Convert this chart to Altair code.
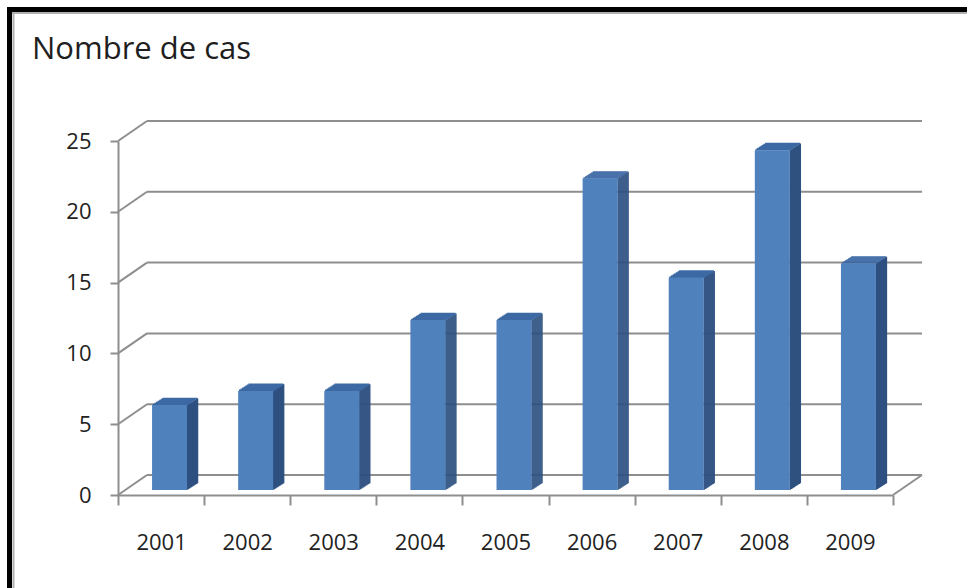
import altair as alt
import pandas as pd

# ---- data ----
years = ["2001", "2002", "2003", "2004", "2005", "2006", "2007", "2008", "2009"]
cases = [6, 7, 7, 12, 12, 22, 15, 24, 16]
y_ticks = [0, 5, 10, 15, 20, 25]
title_text = "Nombre de cas"

df = pd.DataFrame({"year": years, "cases": cases})
grid_df = pd.DataFrame({"tick": y_ticks})

# ---- layout / style constants ----
W, H = 775, 354            # front plot area
PAD_L, PAD_T = 118, 141
DEPTH_X, DEPTH_Y = 29, -20  # back wall offset
BAR_W = 35
BAR_DX = 8.5               # bar front-face offset from band centre
BAR_DY = -5                # bar base lifted from front axis
SIDE_X, SIDE_Y = 11, 7     # 3D bar depth
FRONT = "#4f81bd"
SIDE = "#2e5181"
TOP = "#3c69a3"
GRID = "#8e8e8e"
FONT = "Open Sans"

xs = alt.Scale(domain=years, paddingInner=0, paddingOuter=0)
ys = alt.Scale(domain=[0, 25], nice=False)

x_axis = alt.Axis(title=None, tickBand="extent", labelAngle=0,
                  labelFont=FONT, labelFontSize=22, labelColor="#222222",
                  labelPadding=27, tickSize=10, tickColor=GRID, tickWidth=2,
                  domainColor=GRID, domainWidth=2, grid=False)
y_axis = alt.Axis(title=None, values=y_ticks, labelFont=FONT, labelFontSize=22,
                  labelColor="#222222", labelPadding=19, tickSize=8,
                  tickColor=GRID, tickWidth=2, domainColor=GRID,
                  domainWidth=2, grid=False)


def X():
    return alt.X("year:N", scale=xs, sort=years, axis=x_axis)


def Y(field):
    return alt.Y(field, scale=ys, axis=y_axis)


layers = []

# back-wall gridlines
layers.append(
    alt.Chart(grid_df).mark_rule(color=GRID, strokeWidth=2, yOffset=DEPTH_Y).encode(
        y=Y("tick:Q"), x=alt.value(DEPTH_X), x2=alt.value(W + DEPTH_X))
)
# diagonals from front axis to back wall
layers.append(
    alt.Chart(grid_df).mark_rule(color=GRID, strokeWidth=2, y2Offset=DEPTH_Y).encode(
        y=Y("tick:Q"), y2="tick:Q", x=alt.value(0), x2=alt.value(DEPTH_X))
)
# right floor diagonal
layers.append(
    alt.Chart(grid_df).transform_filter("datum.tick == 0").mark_rule(
        color=GRID, strokeWidth=2, y2Offset=DEPTH_Y).encode(
        y=Y("tick:Q"), y2="tick:Q", x=alt.value(W), x2=alt.value(W + DEPTH_X))
)

# side faces (thin vertical strips forming a parallelogram)
n_side = 11
for k in range(n_side):
    d = (k + 0.5) * SIDE_X / n_side
    off = -SIDE_Y * d / SIDE_X
    layers.append(
        alt.Chart(df).mark_bar(width=SIDE_X / n_side + 0.4, color=SIDE,
                               xOffset=BAR_DX + BAR_W / 2 + d,
                               yOffset=BAR_DY + off, y2Offset=BAR_DY + off).encode(
            x=X(), y=Y("cases:Q"))
    )

# top faces (thin horizontal strips)
n_top = 7
for k in range(n_top):
    d = (k + 0.5) * SIDE_Y / n_top
    sx = SIDE_X * d / SIDE_Y
    h = SIDE_Y / n_top / 2 + 0.3
    layers.append(
        alt.Chart(df).mark_bar(width=BAR_W, color=TOP,
                               xOffset=BAR_DX + sx,
                               yOffset=BAR_DY - d - h, y2Offset=BAR_DY - d + h).encode(
            x=X(), y=Y("cases:Q"), y2="cases:Q")
    )

# front faces
layers.append(
    alt.Chart(df).mark_bar(width=BAR_W, color=FRONT, xOffset=BAR_DX,
                           yOffset=BAR_DY, y2Offset=BAR_DY).encode(x=X(), y=Y("cases:Q"))
)

# frame (black border + thin grey inner line, top and left)
frame_df = pd.DataFrame({"k": [0]})
layers.append(alt.Chart(frame_df).mark_rule(color="#000000", strokeWidth=5).encode(
    x=alt.value(7 - PAD_L), x2=alt.value(967 - PAD_L), y=alt.value(9.5 - PAD_T)))
layers.append(alt.Chart(frame_df).mark_rule(color="#000000", strokeWidth=5).encode(
    x=alt.value(9.5 - PAD_L), y=alt.value(7 - PAD_T), y2=alt.value(588 - PAD_T)))
layers.append(alt.Chart(frame_df).mark_rule(color="#b0b0b0", strokeWidth=2).encode(
    x=alt.value(12 - PAD_L), x2=alt.value(967 - PAD_L), y=alt.value(13 - PAD_T)))
layers.append(alt.Chart(frame_df).mark_rule(color="#b0b0b0", strokeWidth=2).encode(
    x=alt.value(13.5 - PAD_L), y=alt.value(12 - PAD_T), y2=alt.value(588 - PAD_T)))

# chart title (text block in the top-left corner)
title_df = pd.DataFrame({"t": [title_text]})
layers.append(alt.Chart(title_df).mark_text(
    align="left", baseline="alphabetic", font=FONT, fontSize=31,
    color="#1e1e1e").encode(
    text="t:N", x=alt.value(32 - PAD_L), y=alt.value(59 - PAD_T)))

chart = alt.layer(*layers).properties(
    width=W, height=H,
    padding={"left": PAD_L, "top": PAD_T, "right": 967 - PAD_L - W, "bottom": 588 - PAD_T - H},
    autosize="none",
    background="#ffffff",
).configure_view(stroke=None)

chart.save("out.html", embed_options={"renderer": "svg", "actions": False})
